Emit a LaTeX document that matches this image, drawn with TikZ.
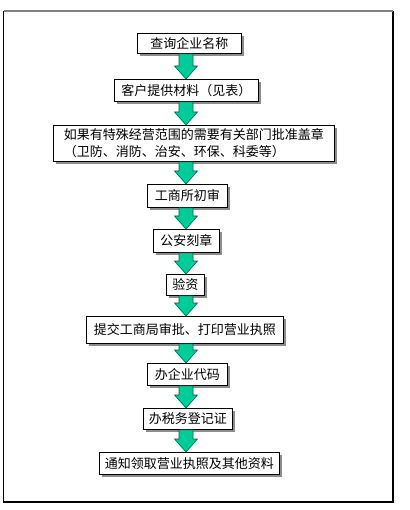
\documentclass[tikz,border=0pt]{standalone}
\usepackage{fontspec}
\newfontfamily\cjk{Noto Sans CJK SC}
\usetikzlibrary{shadows,calc}
\definecolor{arrowgreen}{RGB}{0,204,153}
\definecolor{arrowedge}{RGB}{0,100,75}
\tikzset{
  stepbox/.style={draw=black, line width=0.9pt, fill=white, anchor=north west,
    inner sep=0pt, font=\cjk\fontsize{13}{17}\selectfont,
    drop shadow={shadow xshift=3pt, shadow yshift=-3pt, fill=black!45, opacity=1}},
  flowarrow/.style={fill=arrowgreen, draw=arrowedge, line width=0.6pt, line join=miter},
  frameline/.style={line width=1.2pt}
}
\newcommand\flowarr[2]{%
  \filldraw[flowarrow] let \p1=(col |- #1.south), \p2=(col |- #2.north) in
    (\x1-7pt,\y1) -- (\x1+7pt,\y1) -- (\x1+7pt,\y2+13pt) -- (\x1+11.5pt,\y2+13pt)
    -- (\x1,\y2) -- (\x1-11.5pt,\y2+13pt) -- (\x1-7pt,\y2+13pt) -- cycle;}
\begin{document}
\begin{tikzpicture}[x=1pt,y=-1pt]
\useasboundingbox (0,0) rectangle (409,510);
\fill[white] (0,0) rectangle (409,510);
\draw[frameline,black] (3.5,11) -- (3.5,502) -- (393,502) -- (393,11);
\draw[frameline,gray] (3.5,11) -- (393,11);
\coordinate (col) at (186,0);
\node[stepbox, minimum width=104pt, minimum height=20pt] (b1) at (137,33) {查询企业名称};
\node[stepbox, minimum width=144pt, minimum height=22pt] (b2) at (114,79) {客户提供材料（见表）};
\node[stepbox, minimum width=281pt, minimum height=36pt, align=left] (b3) at (53,125)
  {如果有特殊经营范围的需要有关部门批准盖章\\（卫防、消防、治安、环保、科委等）};
\node[stepbox, minimum width=80pt, minimum height=23pt] (b4) at (147,184) {工商所初审};
\node[stepbox, minimum width=66pt, minimum height=23pt] (b5) at (153,229) {公安刻章};
\node[stepbox, minimum width=38pt, minimum height=21pt] (b6) at (166,274) {验资};
\node[stepbox, minimum width=197pt, minimum height=27pt] (b7) at (86,316) {提交工商局审批、打印营业执照};
\node[stepbox, minimum width=80pt, minimum height=22pt] (b8) at (147,363) {办企业代码};
\node[stepbox, minimum width=89pt, minimum height=21pt] (b9) at (143,408) {办税务登记证};
\node[stepbox, minimum width=180pt, minimum height=22pt] (b10) at (99,452) {通知领取营业执照及其他资料};
\flowarr{b1}{b2}
\flowarr{b2}{b3}
\flowarr{b3}{b4}
\flowarr{b4}{b5}
\flowarr{b5}{b6}
\flowarr{b6}{b7}
\flowarr{b7}{b8}
\flowarr{b8}{b9}
\flowarr{b9}{b10}
\end{tikzpicture}
\end{document}
